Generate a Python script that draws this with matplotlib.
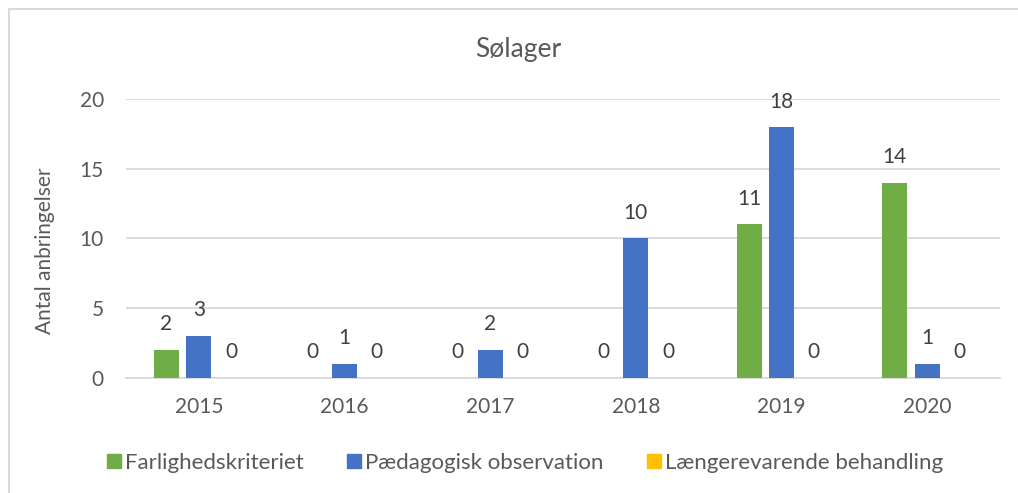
import matplotlib
matplotlib.use("Agg")
import matplotlib.pyplot as plt
import numpy as np
from matplotlib.lines import Line2D

years = ["2015", "2016", "2017", "2018", "2019", "2020"]
farlighed = [2, 0, 0, 0, 11, 14]
paedagogisk = [3, 1, 2, 10, 18, 1]
laengere = [0, 0, 0, 0, 0, 0]
series_names = ["Farlighedskriteriet", "Pædagogisk observation", "Længerevarende behandling"]
colors = ["#70AD47", "#4472C4", "#FFC000"]
title = "Sølager"
ylabel = "Antal anbringelser"
yticks = [0, 5, 10, 15, 20]

plt.rcParams['font.family'] = ['Lato', 'DejaVu Sans']
txt = "#595959"
fs = 15

fig = plt.figure(figsize=(10.18, 4.93), dpi=100)
ax = fig.add_axes([126/1018, 1 - 377.5/493, 874/1018, (377.5 - 99)/493])

x = np.arange(len(years))
w = 0.17
pitch = 0.222
data = [farlighed, paedagogisk, laengere]
for i, (vals, c, name) in enumerate(zip(data, colors, series_names)):
    pos = x + (i - 1) * pitch
    bars = ax.bar(pos, vals, width=w, color=c, label=name, zorder=3)
    ax.bar_label(bars, labels=[str(v) for v in vals], padding=11, fontsize=fs, color="#404040")

ax.set_xlim(-0.5, len(years) - 0.5)
ax.set_ylim(0, 20)
ax.set_yticks(yticks)
ax.set_xticks(x)
ax.set_xticklabels(years)
ax.tick_params(axis='both', length=0, labelsize=fs, colors=txt)
ax.tick_params(axis='x', pad=14)
ax.tick_params(axis='y', pad=16)
ax.grid(axis='y', color="#D9D9D9", linewidth=1.3, zorder=0)
for s in ["top", "right", "left"]:
    ax.spines[s].set_visible(False)
ax.spines["bottom"].set_color("#D9D9D9")
ax.spines["bottom"].set_linewidth(1.3)

fig.text(45/1018, 1 - 251/493, ylabel, rotation=90, ha='center', va='center', fontsize=fs, color=txt)
fig.text(518/1018, 1 - 49/493, title, ha='center', va='center', fontsize=19, color=txt)

handles = [Line2D([0], [0], marker='s', linestyle='none', markersize=10,
                  markerfacecolor=c, markeredgecolor=c) for c in colors]
fig.legend(handles, series_names, loc='center', bbox_to_anchor=(524/1018, 1 - 463/493),
           ncol=3, frameon=False, fontsize=16, labelcolor=txt,
           handletextpad=0.1, columnspacing=1.85, handlelength=0.8)

# chart border (left and top)
fig.add_artist(Line2D([9/1018, 9/1018], [0, 1 - 9/493], transform=fig.transFigure, color="#D9D9D9", lw=1.5))
fig.add_artist(Line2D([9/1018, 1], [1 - 9/493, 1 - 9/493], transform=fig.transFigure, color="#D9D9D9", lw=1.5))

fig.savefig("out.png", dpi=100)
